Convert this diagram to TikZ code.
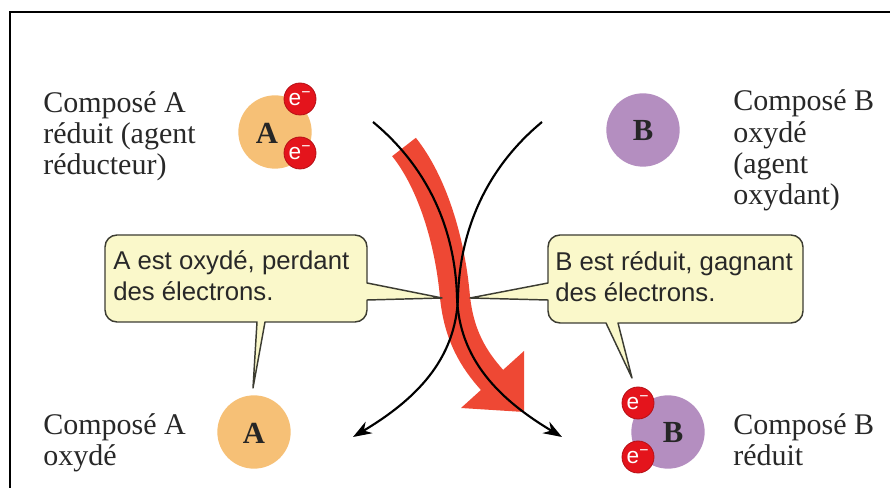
\documentclass[tikz,border=0pt]{standalone}
\usepackage{fontspec}
\setmainfont{Liberation Serif}
\setsansfont{Liberation Sans}
\usetikzlibrary{arrows.meta}
\definecolor{orangeball}{RGB}{246,192,118}
\definecolor{purpleball}{RGB}{180,142,192}
\definecolor{elecred}{RGB}{228,20,28}
\definecolor{bubblefill}{RGB}{250,248,202}
\definecolor{bubbleline}{RGB}{60,60,50}
\definecolor{ribbonred}{RGB}{238,72,52}
\definecolor{textgray}{RGB}{40,40,40}
\begin{document}
\begin{tikzpicture}[x=0.75pt,y=-0.75pt,
  lbl/.style={anchor=base west,inner sep=0,align=left,font=\fontsize{22.5}{23.6}\selectfont,text=textgray},
  bubtext/.style={anchor=base west,inner sep=0,align=left,font=\sffamily\fontsize{19.3}{23.6}\selectfont,text=textgray},
  ball/.style={circle,inner sep=0,minimum size=55pt},
  letter/.style={inner sep=0,font=\bfseries\fontsize{23}{23}\selectfont,text=black!85},
  elec/.style={circle,inner sep=0,minimum size=24pt,fill=elecred,draw=elecred!80!black,line width=0.6pt,text=white,font=\sffamily\fontsize{17}{17}\selectfont},
  curve/.style={line width=1.6pt,-{Stealth[length=14pt,width=10pt]}},
  bubble/.style={fill=bubblefill,draw=bubbleline,line width=1.1pt,line join=round},
  ribbon/.style={draw=ribbonred,line width=22.5pt},
]
\useasboundingbox (0,0) rectangle (890,488);
% frame
\draw[line width=2pt] (10,490) -- (10,12) -- (892,12);

% labels (anchor = baseline of last line)
\node[lbl] (lA1) at (43,175) {Composé A\\réduit (agent\\réducteur)};
\node[lbl] (lB1) at (733,205) {Composé B\\oxydé\\(agent\\oxydant)};
\node[lbl] (lA2) at (43,466) {Composé A\\oxydé};
\node[lbl] (lB2) at (733,466) {Composé B\\réduit};

% molecules
\node[ball,fill=orangeball] (A1) at (275,132) {};
\node[letter] (A1t) at (267,133) {A};
\node[elec] (eA1) at (300,99) {e\textsuperscript{−}};
\node[elec] (eA2) at (300,153) {e\textsuperscript{−}};

\node[ball,fill=purpleball] (B1) at (643,130) {};
\node[letter] (B1t) at (643,131) {B};

\node[ball,fill=orangeball] (A2) at (254,432) {};
\node[letter] (A2t) at (254,433) {A};

\node[ball,fill=purpleball] (B2) at (668,432) {};
\node[letter] (B2t) at (673,433) {B};
\node[elec] (eB1) at (638,403) {e\textsuperscript{−}};
\node[elec] (eB2) at (638,457) {e\textsuperscript{−}};

% red ribbon arrow
\coordinate (rs) at (404,147);
\coordinate (re) at (493,381);
\draw[ribbon] (rs) .. controls (432,182) and (450,240) .. (455,297) .. controls (459,335) and (473,359) .. (re);
\fill[ribbonred] (461,408) -- (524,351) -- (524,412) -- cycle;

% black curves
\coordinate (c1s) at (373,122);
\coordinate (c1e) at (562,437);
\coordinate (c2s) at (542,122);
\coordinate (c2e) at (353,437);
\draw[curve] (c1s) .. controls (425,165) and (455,225) .. (457,297) .. controls (459,360) and (500,400) .. (c1e);
\draw[curve] (c2s) .. controls (490,165) and (460,225) .. (458,297) .. controls (456,360) and (415,400) .. (c2e);

% bubbles
\path[bubble] (117,235) -- (355,235) arc[start angle=270,end angle=360,radius=12]
  -- (367,283) -- (442,298) -- (367,300) -- (367,310) arc[start angle=0,end angle=90,radius=12]
  -- (265,322) -- (253,388) -- (257,322) -- (117,322) arc[start angle=90,end angle=180,radius=12]
  -- (105,247) arc[start angle=180,end angle=270,radius=12] -- cycle;
\path[bubble] (560,235) -- (791,235) arc[start angle=270,end angle=360,radius=12]
  -- (803,311) arc[start angle=0,end angle=90,radius=12]
  -- (618,323) -- (632,378) -- (606,323) -- (560,323) arc[start angle=90,end angle=180,radius=12]
  -- (548,300) -- (470,298) -- (548,283) -- (548,247) arc[start angle=180,end angle=270,radius=12] -- cycle;
\node[bubtext] (tA) at (113,301) {A est oxydé, perdant\\des électrons.};
\node[bubtext] (tB) at (555,302) {B est réduit, gagnant\\des électrons.};
\end{tikzpicture}
\end{document}
